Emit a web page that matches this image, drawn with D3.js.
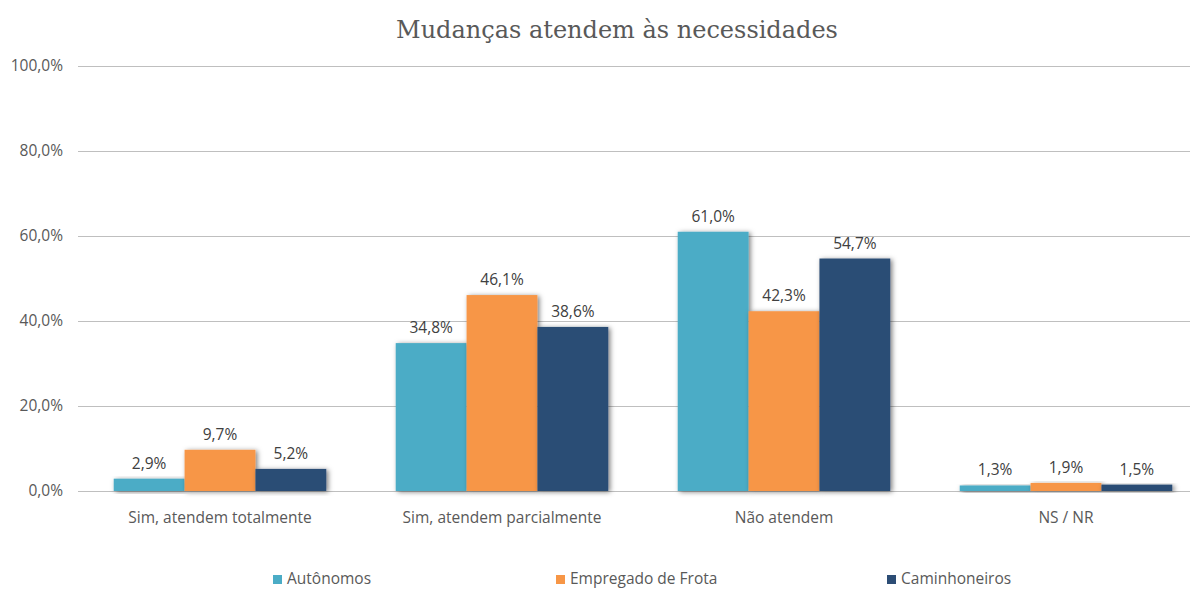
<!DOCTYPE html>
<html>
<head>
<meta charset="utf-8">
<script src="https://cdn.jsdelivr.net/npm/d3@7"></script>
<style>
  body { margin: 0; background: #fff; }
  text { font-family: "Open Sans", "Liberation Sans", sans-serif; }
</style>
</head>
<body>
<div id="wrapper"></div>
<script>
const categories = ["Sim, atendem totalmente", "Sim, atendem parcialmente", "Não atendem", "NS / NR"];
const seriesNames = ["Autônomos", "Empregado de Frota", "Caminhoneiros"];
const autonomos = [2.9, 34.8, 61.0, 1.3];
const empregado = [9.7, 46.1, 42.3, 1.9];
const caminhoneiros = [5.2, 38.6, 54.7, 1.5];
const yTicks = [0, 20, 40, 60, 80, 100];
const colors = ["#4BACC6", "#F79646", "#2C4D75"];

function drawChart() {
  const width = 1190;
  const height = 590;
  const dims = { left: 79, right: 1207, top: 66, bottom: 491 };

  const svg = d3.select("#wrapper").append("svg")
    .attr("width", width).attr("height", height);

  const defs = svg.append("defs");
  const filter = defs.append("filter").attr("id", "shadow")
    .attr("x", "-20%").attr("y", "-20%").attr("width", "140%").attr("height", "140%");
  filter.append("feDropShadow")
    .attr("dx", 2).attr("dy", 1).attr("stdDeviation", 2.5)
    .attr("flood-color", "#000").attr("flood-opacity", 0.5);

  const x0 = d3.scaleBand().domain(categories).range([dims.left, dims.right]).paddingInner(0).paddingOuter(0);
  const x1 = d3.scaleBand().domain(seriesNames).range([0, x0.bandwidth()]).paddingInner(0).paddingOuter(0.49);
  const y = d3.scaleLinear().domain([0, 100]).range([dims.bottom, dims.top]);

  // title
  svg.append("text")
    .attr("x", 617).attr("y", 38)
    .attr("text-anchor", "middle")
    .style("font-family", "'DejaVu Serif', 'Liberation Serif', serif")
    .attr("font-size", 24)
    .attr("fill", "#595959")
    .text("Mudanças atendem às necessidades");

  // grid
  const grid = svg.append("g");
  yTicks.forEach((t) => {
    grid.append("line")
      .attr("x1", 78).attr("x2", width)
      .attr("y1", Math.round(y(t)) + 0.5).attr("y2", Math.round(y(t)) + 0.5)
      .attr("stroke", "#bfbfbf").attr("stroke-width", 1);
    grid.append("text")
      .attr("x", 63).attr("y", y(t))
      .attr("dy", "0.35em")
      .attr("text-anchor", "end")
      .attr("font-size", 15.5)
      .attr("fill", "#595959")
      .text(d3.format(".1f")(t).replace(".", ",") + "%");
  });

  const series = [autonomos, empregado, caminhoneiros];
  const rows = [];
  categories.forEach((c, i) => {
    seriesNames.forEach((s, j) => {
      rows.push({ cat: c, name: s, value: series[j][i], j });
    });
  });

  const bars = svg.append("g");
  bars.selectAll("rect")
    .data(rows)
    .join("rect")
    .attr("x", (d) => x0(d.cat) + x1(d.name))
    .attr("y", (d) => y(d.value))
    .attr("width", x1.bandwidth())
    .attr("height", (d) => y(0) - y(d.value))
    .attr("fill", (d) => colors[d.j])
    .attr("filter", "url(#shadow)");

  svg.append("g").selectAll("text")
    .data(rows)
    .join("text")
    .attr("x", (d) => x0(d.cat) + x1(d.name) + x1.bandwidth() / 2)
    .attr("y", (d) => y(d.value) - 10)
    .attr("text-anchor", "middle")
    .attr("font-size", 15.5)
    .attr("fill", "#404040")
    .text((d) => d.value.toFixed(1).replace(".", ",") + "%");

  // category labels
  svg.append("g").selectAll("text")
    .data(categories)
    .join("text")
    .attr("x", (d) => x0(d) + x0.bandwidth() / 2)
    .attr("y", 523)
    .attr("text-anchor", "middle")
    .attr("font-size", 15.5)
    .attr("fill", "#595959")
    .text((d) => d);

  // legend
  const legendX = [273, 556, 887];
  const legend = svg.append("g").selectAll("g")
    .data(seriesNames)
    .join("g")
    .attr("transform", (d, i) => `translate(${legendX[i]}, 575)`);
  legend.append("rect")
    .attr("width", 9).attr("height", 9)
    .attr("fill", (d, i) => colors[i]);
  legend.append("text")
    .attr("x", 14).attr("y", 9)
    .attr("font-size", 15.5)
    .attr("fill", "#595959")
    .text((d) => d);
}

drawChart();
</script>
</body>
</html>
